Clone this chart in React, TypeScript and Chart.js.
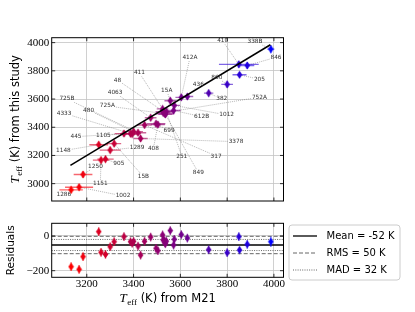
import React, { useEffect, useRef } from "react";
import { Chart, registerables } from "chart.js";
Chart.register(...registerables);

// ---- data ----
const starNames = ["1286","1002","1250","1148","1151","905","1289","15B","445","1105","4333","480","725B","3378","317","4063","699","408","411","48","725A","849","15A","612B","1012","412A","436","382","860","410","205","846","338B","251","752A"];
const teffM21 = [3133,3167,3184,3251,3261,3280,3300,3317,3359,3387,3394,3400,3419,3430,3447,3473,3496,3504,3524,3529,3534,3536,3557,3571,3574,3604,3630,3721,3800,3850,3853,3886,3987,3540,3527];
const teffStudy = [2956,2975,3065,3276,3167,3174,3238,3284,3355,3354,3352,3369,3361,3320,3416,3467,3425,3419,3530,3510,3496,3491,3588,3519,3555,3612,3618,3642,3704,3846,3772,3838,3954,3510,3502];
const errM21 = [50,60,40,40,35,35,45,30,40,45,30,40,35,30,30,25,40,30,25,35,40,30,25,30,25,25,25,20,25,85,30,30,15,30,30];
const errStudy = [25,25,25,25,25,25,25,25,25,25,25,25,25,25,25,25,25,25,25,25,25,25,25,25,25,25,25,25,25,25,20,25,30,25,25];
const labelM21 = [3102,3355,3237,3100,3258,3337,3415,3442,3154,3271,3103,3208,3115,3838,3753,3321,3552,3485,3425,3331,3288,3677,3542,3691,3798,3641,3677,3777,3756,3781,3938,4009,3919,3606,3938];
const labelStudy = [2925,2913,3121,3234,3003,3140,3258,3050,3333,3345,3499,3521,3601,3298,3196,3645,3374,3251,3785,3735,3551,3078,3660,3475,3487,3894,3700,3601,3752,4012,3740,3896,4007,3196,3613];
const oneToOneX = [3130, 3985];
const oneToOneY = [3130, 3985];
const xTicks = [3200, 3400, 3600, 3800, 4000];
const yTicksTop = [3000, 3200, 3400, 3600, 3800, 4000];
const yTicksRes = [-200, 0];
const meanRes = -52;
const rmsRes = 50;
const madRes = 32;

const X_MIN = 3050, X_MAX = 4041;
const GRID = "#c4c4c4";
const TICK_FONT = { family: "Liberation Serif", size: 11 };

const residuals = teffStudy.map((v, i) => v - teffM21[i]);
const tMin = Math.min(...teffM21), tMax = Math.max(...teffM21);
function col(t: number, a = 1) {
  const f = (t - tMin) / (tMax - tMin);
  return `rgba(${Math.round(255 * (1 - f))},0,${Math.round(255 * f)},${a})`;
}
function diamond(color: string) {
  const c = document.createElement("canvas");
  c.width = 7; c.height = 9;
  const g = c.getContext("2d")!;
  g.fillStyle = color;
  g.beginPath();
  g.moveTo(3.5, 0.6); g.lineTo(6.3, 4.5); g.lineTo(3.5, 8.4); g.lineTo(0.7, 4.5);
  g.closePath(); g.fill();
  return c;
}

const framePlugin = {
  id: "frame",
  afterDraw(chart: any) {
    const { ctx, chartArea: a, scales } = chart;
    ctx.save();
    ctx.strokeStyle = "#000";
    ctx.lineWidth = 1;
    ctx.strokeRect(a.left, a.top, a.right - a.left, a.bottom - a.top);
    ctx.lineWidth = 0.8;
    ctx.beginPath();
    scales.x.ticks.forEach((t: any) => {
      const p = scales.x.getPixelForValue(t.value);
      ctx.moveTo(p, a.bottom); ctx.lineTo(p, a.bottom - 3.5);
      ctx.moveTo(p, a.top); ctx.lineTo(p, a.top + 3.5);
    });
    scales.y.ticks.forEach((t: any) => {
      const p = scales.y.getPixelForValue(t.value);
      ctx.moveTo(a.left, p); ctx.lineTo(a.left + 3.5, p);
      ctx.moveTo(a.right, p); ctx.lineTo(a.right - 3.5, p);
    });
    ctx.stroke();
    ctx.restore();
  },
};

function drawTeffTitle(ctx: CanvasRenderingContext2D, cx: number, cy: number, rot: number, rest: string) {
  ctx.save();
  ctx.translate(cx, cy);
  ctx.rotate(rot);
  ctx.fillStyle = "#000";
  ctx.textBaseline = "alphabetic";
  const fT = "italic 13px 'Liberation Serif'";
  const fS = "9px 'Liberation Serif'";
  const fR = "11.5px 'DejaVu Sans'";
  ctx.font = fT; const wT = ctx.measureText("T").width;
  ctx.font = fS; const wS = ctx.measureText("eff").width;
  ctx.font = fR; const wR = ctx.measureText(rest).width;
  const total = wT + 0.5 + wS + wR;
  let x = -total / 2;
  const base = 4;
  ctx.font = fT; ctx.fillText("T", x, base); x += wT + 0.5;
  ctx.font = fS; ctx.fillText("eff", x, base + 2.5); x += wS;
  ctx.font = fR; ctx.fillText(rest, x, base);
  ctx.restore();
}

const LABEL_FONT = "5.8px 'DejaVu Sans'";

const topDecor = {
  id: "topDecor",
  beforeDatasetsDraw(chart: any) {
    const { ctx, scales: { x, y } } = chart;
    ctx.save();
    // leader lines
    ctx.font = LABEL_FONT;
    ctx.strokeStyle = "rgba(120,120,120,0.9)";
    ctx.lineWidth = 0.6;
    ctx.setLineDash([1, 1]);
    starNames.forEach((n, i) => {
      const px = x.getPixelForValue(teffM21[i]);
      const py = y.getPixelForValue(teffStudy[i]);
      const lx = x.getPixelForValue(labelM21[i]);
      const ly = y.getPixelForValue(labelStudy[i]);
      const hw = ctx.measureText(n).width / 2 + 1;
      const hh = 3.5;
      const dx = px - lx, dy = py - ly;
      const s = Math.min(dx === 0 ? Infinity : hw / Math.abs(dx), dy === 0 ? Infinity : hh / Math.abs(dy));
      if (s >= 1) return;
      ctx.beginPath();
      ctx.moveTo(lx + dx * s, ly + dy * s);
      ctx.lineTo(px, py);
      ctx.stroke();
    });
    ctx.setLineDash([]);
    // error bars
    ctx.lineWidth = 1.4;
    teffM21.forEach((t, i) => {
      const px = x.getPixelForValue(t);
      const py = y.getPixelForValue(teffStudy[i]);
      ctx.strokeStyle = col(t, 0.6);
      ctx.beginPath();
      ctx.moveTo(x.getPixelForValue(t - errM21[i]), py);
      ctx.lineTo(x.getPixelForValue(t + errM21[i]), py);
      ctx.moveTo(px, y.getPixelForValue(teffStudy[i] - errStudy[i]));
      ctx.lineTo(px, y.getPixelForValue(teffStudy[i] + errStudy[i]));
      ctx.stroke();
    });
    ctx.restore();
  },
  afterDatasetsDraw(chart: any) {
    const { ctx, scales: { x, y } } = chart;
    ctx.save();
    ctx.font = LABEL_FONT;
    ctx.fillStyle = "#333";
    ctx.textAlign = "center";
    ctx.textBaseline = "middle";
    starNames.forEach((n, i) => {
      ctx.fillText(n, x.getPixelForValue(labelM21[i]), y.getPixelForValue(labelStudy[i]));
    });
    ctx.restore();
  },
  afterDraw(chart: any) {
    const a = chart.chartArea;
    drawTeffTitle(chart.ctx, 15, (a.top + a.bottom) / 2, -Math.PI / 2, " (K) from this study");
  },
};

const botDecor = {
  id: "botDecor",
  beforeDatasetsDraw(chart: any) {
    const { ctx, chartArea: a, scales: { x, y } } = chart;
    ctx.save();
    const hline = (v: number, color: string, dash: number[], lw: number) => {
      const p = y.getPixelForValue(v);
      ctx.strokeStyle = color; ctx.setLineDash(dash); ctx.lineWidth = lw;
      ctx.beginPath(); ctx.moveTo(a.left, p); ctx.lineTo(a.right, p); ctx.stroke();
    };
    hline(meanRes + rmsRes, "#666", [4, 2], 1);
    hline(meanRes - rmsRes, "#666", [4, 2], 1);
    hline(meanRes + madRes, "#666", [1, 1.3], 1);
    hline(meanRes - madRes, "#666", [1, 1.3], 1);
    hline(meanRes, "#000", [], 1.3);
    ctx.setLineDash([]);
    ctx.lineWidth = 1.4;
    teffM21.forEach((t, i) => {
      const px = x.getPixelForValue(t);
      ctx.strokeStyle = col(t, 0.6);
      ctx.beginPath();
      ctx.moveTo(px, y.getPixelForValue(residuals[i] - errStudy[i]));
      ctx.lineTo(px, y.getPixelForValue(residuals[i] + errStudy[i]));
      ctx.stroke();
    });
    ctx.restore();
  },
  afterDraw(chart: any) {
    const { ctx, chartArea: a } = chart;
    drawTeffTitle(ctx, (a.left + a.right) / 2, 298, 0, " (K) from M21");
    ctx.save();
    ctx.fillStyle = "#000";
    ctx.font = "10.5px 'DejaVu Sans'";
    ctx.textAlign = "center";
    ctx.textBaseline = "middle";
    ctx.translate(11.7, (a.top + a.bottom) / 2);
    ctx.rotate(-Math.PI / 2);
    ctx.fillText("Residuals", 0, 0);
    ctx.restore();
    // legend
    ctx.save();
    const bx = 289, by = 225, bw = 111, bh = 55, r = 3;
    ctx.beginPath();
    ctx.moveTo(bx + r, by); ctx.lineTo(bx + bw - r, by); ctx.arcTo(bx + bw, by, bx + bw, by + r, r);
    ctx.lineTo(bx + bw, by + bh - r); ctx.arcTo(bx + bw, by + bh, bx + bw - r, by + bh, r);
    ctx.lineTo(bx + r, by + bh); ctx.arcTo(bx, by + bh, bx, by + bh - r, r);
    ctx.lineTo(bx, by + r); ctx.arcTo(bx, by, bx + r, by, r);
    ctx.closePath();
    ctx.fillStyle = "rgba(255,255,255,0.8)"; ctx.fill();
    ctx.strokeStyle = "#cccccc"; ctx.lineWidth = 1; ctx.stroke();
    const items: [string, string, number[], number][] = [
      [`Mean = ${meanRes} K`, "#000", [], 1.3],
      [`RMS = ${rmsRes} K`, "#666", [4, 2], 1],
      [`MAD = ${madRes} K`, "#666", [1, 1.3], 1],
    ];
    ctx.font = "10px 'DejaVu Sans'";
    ctx.textBaseline = "middle";
    items.forEach(([txt, c, dash, lw], i) => {
      const yy = 236 + i * 17;
      ctx.strokeStyle = c; ctx.setLineDash(dash); ctx.lineWidth = lw;
      ctx.beginPath(); ctx.moveTo(293, yy); ctx.lineTo(317, yy); ctx.stroke();
      ctx.setLineDash([]);
      ctx.fillStyle = "#000";
      ctx.fillText(txt, 326.5, yy);
    });
    ctx.restore();
  },
};

function gridOpts() {
  return { color: GRID, lineWidth: 0.8, drawTicks: false };
}

export default function App() {
  const topRef = useRef<HTMLCanvasElement>(null);
  const botRef = useRef<HTMLCanvasElement>(null);
  useEffect(() => {
    const images = teffM21.map((t) => diamond(col(t)));
    const top = new Chart(topRef.current!, {
      type: "scatter",
      data: {
        datasets: [
          {
            type: "line",
            data: oneToOneX.map((x, i) => ({ x, y: oneToOneY[i] })),
            borderColor: "#000",
            borderWidth: 1.5,
            pointRadius: 0,
            showLine: true,
            fill: false,
            order: 0,
          } as any,
          {
            data: teffM21.map((x, i) => ({ x, y: teffStudy[i] })),
            pointStyle: images as any,
            pointRadius: 4,
            order: 1,
          },
        ],
      },
      options: {
        responsive: false,
        animation: false,
        events: [],
        layout: { padding: { left: 0, right: 131.5, top: 37.7, bottom: 111 } },
        plugins: { legend: { display: false }, tooltip: { enabled: false } },
        scales: {
          x: {
            type: "linear", min: X_MIN, max: X_MAX,
            afterBuildTicks: (s: any) => { s.ticks = xTicks.map((v) => ({ value: v })); },
            afterFit: (s: any) => { s.height = 0; },
            ticks: { display: false },
            grid: gridOpts(),
            border: { display: false },
          },
          y: {
            type: "linear", min: 2877, max: 4035,
            afterBuildTicks: (s: any) => { s.ticks = yTicksTop.map((v) => ({ value: v })); },
            afterFit: (s: any) => { s.width = 51.7; },
            ticks: { font: TICK_FONT, color: "#000", padding: 2.5, callback: (v: any) => String(v) },
            grid: gridOpts(),
            border: { display: false },
          },
        },
      } as any,
      plugins: [topDecor, framePlugin],
    });
    const bot = new Chart(botRef.current!, {
      type: "scatter",
      data: {
        datasets: [
          {
            data: teffM21.map((x, i) => ({ x, y: residuals[i] })),
            pointStyle: images as any,
            pointRadius: 4,
          },
        ],
      },
      options: {
        responsive: false,
        animation: false,
        events: [],
        layout: { padding: { left: 0, right: 131.5, top: 223.3, bottom: 18.7 } },
        plugins: { legend: { display: false }, tooltip: { enabled: false } },
        scales: {
          x: {
            type: "linear", min: X_MIN, max: X_MAX,
            afterBuildTicks: (s: any) => { s.ticks = xTicks.map((v) => ({ value: v })); },
            afterFit: (s: any) => { s.height = 16; },
            ticks: { font: TICK_FONT, color: "#000", padding: 0, maxRotation: 0, callback: (v: any) => String(v) },
            grid: gridOpts(),
            border: { display: false },
          },
          y: {
            type: "linear", min: -238, max: 73,
            afterBuildTicks: (s: any) => { s.ticks = yTicksRes.map((v) => ({ value: v })); },
            afterFit: (s: any) => { s.width = 51.7; },
            ticks: { font: TICK_FONT, color: "#000", padding: 2.5, callback: (v: any) => (v < 0 ? "\u2212" + Math.abs(v) : String(v)) },
            grid: gridOpts(),
            border: { display: false },
          },
        },
      } as any,
      plugins: [botDecor, framePlugin],
    });
    return () => { top.destroy(); bot.destroy(); };
  }, []);
  return (
    <div style={{ position: "fixed", left: 0, top: 0, width: 415, height: 312, background: "#fff" }}>
      <canvas ref={topRef} width={415} height={312} style={{ position: "absolute", left: 0, top: 0 }} />
      <canvas ref={botRef} width={415} height={312} style={{ position: "absolute", left: 0, top: 0 }} />
    </div>
  );
}
